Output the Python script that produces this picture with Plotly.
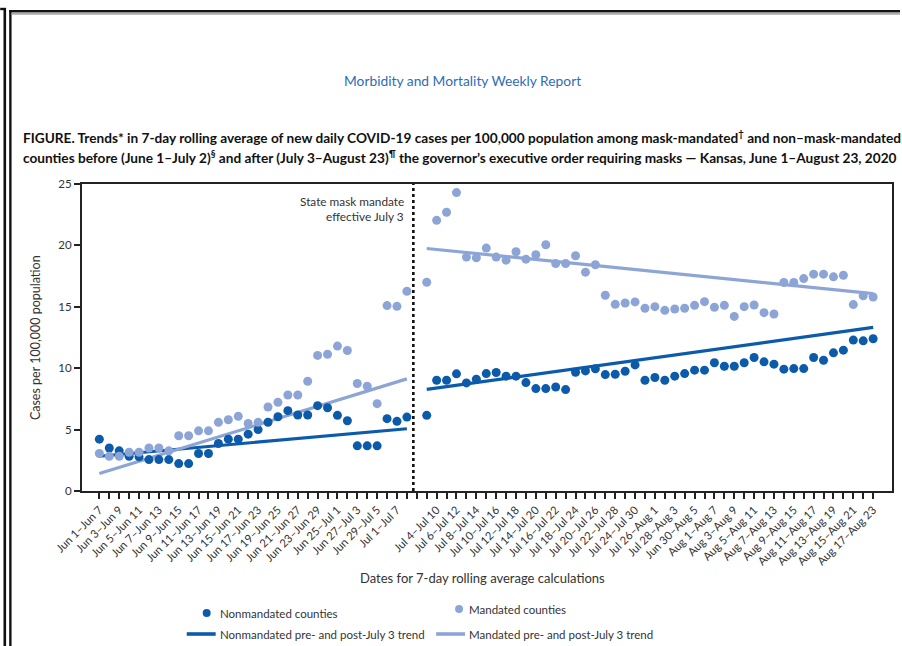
import plotly.graph_objects as go

# ---------------- data ----------------
pre_nonmandated = [4.22, 3.5, 3.27, 2.83, 2.78, 2.56, 2.56, 2.56, 2.23, 2.23, 3.05, 3.05, 3.87, 4.22, 4.22, 4.63,
                   5.0, 5.6, 6.05, 6.54, 6.19, 6.19, 6.95, 6.78, 6.16, 5.72, 3.68, 3.68, 3.68, 5.89, 5.67, 6.02]
pre_mandated = [3.05, 2.83, 2.83, 3.16, 3.16, 3.5, 3.5, 3.27, 4.5, 4.5, 4.9, 4.9, 5.59, 5.8, 6.08, 5.5,
                5.59, 6.84, 7.22, 7.82, 7.82, 8.94, 11.04, 11.14, 11.8, 11.44, 8.75, 8.53, 7.11, 15.1, 15.04, 16.27]
post_nonmandated = [6.16, 9.02, 9.02, 9.54, 8.8, 9.1, 9.56, 9.65, 9.35, 9.35, 8.83, 8.34, 8.34, 8.47, 8.26, 9.67,
                    9.78, 9.95, 9.48, 9.51, 9.75, 10.27, 9.02, 9.24, 9.02, 9.35, 9.56, 9.84, 9.84, 10.44, 10.16,
                    10.16, 10.44, 10.87, 10.52, 10.33, 9.92, 9.97, 9.97, 10.87, 10.65, 11.25, 11.47, 12.29, 12.23, 12.4]
post_mandated = [17.0, 22.04, 22.7, 24.3, 19.05, 18.99, 19.78, 19.05, 18.8, 19.48, 18.88, 19.24, 20.05, 18.53, 18.53,
                 19.16, 17.82, 18.42, 15.94, 15.2, 15.31, 15.4, 14.88, 15.01, 14.71, 14.82, 14.88, 15.12, 15.42,
                 14.96, 15.12, 14.22, 15.01, 15.15, 14.52, 14.41, 16.98, 16.98, 17.3, 17.66, 17.66, 17.44, 17.57,
                 15.18, 15.89, 15.8]

# trend line values at first and last date of each period
pre_trend_nonmandated = [2.83, 5.07]
pre_trend_mandated = [1.42, 9.13]
post_trend_nonmandated = [8.28, 13.32]
post_trend_mandated = [19.75, 16.08]

pre_labels = ["Jun 1–Jun 7", "Jun 3–Jun 9", "Jun 5–Jun 11", "Jun 7–Jun 13", "Jun 9–Jun 15", "Jun 11–Jun 17",
              "Jun 13–Jun 19", "Jun 15–Jun 21", "Jun 17–Jun 23", "Jun 19–Jun 25", "Jun 21–Jun 27",
              "Jun 23–Jun 29", "Jun 25–Jul 1", "Jun 27–Jul 3", "Jun 29–Jul 5", "Jul 1–Jul 7"]
post_labels = ["Jul 4–Jul 10", "Jul 6–Jul 12", "Jul 8–Jul 14", "Jul 10–Jul 16", "Jul 12–Jul 18", "Jul 14–Jul 20",
               "Jul 16–Jul 22", "Jul 18–Jul 24", "Jul 20–Jul 26", "Jul 22–Jul 28", "Jul 24–Jul 30",
               "Jul 26–Aug 1", "Jul 28–Aug 3", "Jun 30–Aug 5", "Aug 1–Aug 7", "Aug 3–Aug 9", "Aug 5–Aug 11",
               "Aug 7–Aug 13", "Aug 9–Aug 15", "Aug 11–Aug 17", "Aug 13–Aug 19", "Aug 15–Aug 21", "Aug 17–Aug 23"]

y_ticks = [0, 5, 10, 15, 20, 25]

# ---------------- positions ----------------
n_pre = len(pre_nonmandated)
n_post = len(post_nonmandated)
pre_x = list(range(n_pre))
post_x = list(range(n_pre + 1, n_pre + 1 + n_post))
n_slots = n_pre + 1 + n_post

tickvals = list(range(n_slots))
ticktext = [" "] * n_slots
for i, lab in enumerate(pre_labels):
    ticktext[2 * i] = lab
for i, lab in enumerate(post_labels):
    ticktext[post_x[1] + 2 * i] = lab

DARK = "#0C5BAA"
LIGHT = "#8DA5D6"
TXT = "#333333"
FONT = "Lato, Noto Sans, sans-serif"

W, H = 902, 646
ML, MR, MT, MB = 82, 8, 184, 155
PW, PH = W - ML - MR, H - MT - MB


def PX(x):
    return (x - ML) / PW


def PY(y):
    return (H - MB - y) / PH


fig = go.Figure()

# trend lines
for xs, ys, c in [([pre_x[0], pre_x[-1]], pre_trend_nonmandated, DARK),
                  ([pre_x[0], pre_x[-1]], pre_trend_mandated, LIGHT),
                  ([post_x[0], post_x[-1]], post_trend_nonmandated, DARK),
                  ([post_x[0], post_x[-1]], post_trend_mandated, LIGHT)]:
    fig.add_trace(go.Scatter(x=xs, y=ys, mode="lines", line=dict(color=c, width=3.2),
                             showlegend=False, hoverinfo="skip"))

# points
fig.add_trace(go.Scatter(x=pre_x + post_x, y=pre_nonmandated + post_nonmandated, mode="markers",
                         marker=dict(color=DARK, size=9), showlegend=False))
fig.add_trace(go.Scatter(x=pre_x + post_x, y=pre_mandated + post_mandated, mode="markers",
                         marker=dict(color=LIGHT, size=9), showlegend=False))

shapes = []
# mandate line (between last pre point and first post point)
shapes.append(dict(type="line", xref="x", yref="paper", x0=n_pre - 0.35, x1=n_pre - 0.35, y0=0, y1=1,
                   line=dict(color="#111111", width=2.6, dash="dot")))

# page frame
shapes += [
    dict(type="line", xref="paper", yref="paper", x0=PX(4.6), x1=PX(4.6), y0=PY(8), y1=PY(646),
         line=dict(color="#111111", width=2.6)),
    dict(type="line", xref="paper", yref="paper", x0=PX(0), x1=PX(5.8), y0=PY(9), y1=PY(9),
         line=dict(color="#111111", width=2.4)),
    dict(type="line", xref="paper", yref="paper", x0=PX(10.2), x1=PX(10.2), y0=PY(10), y1=PY(646),
         line=dict(color="#111111", width=2.4)),
    dict(type="line", xref="paper", yref="paper", x0=PX(9), x1=PX(902), y0=PY(11.2), y1=PY(11.2),
         line=dict(color="#111111", width=2.4)),
    dict(type="line", xref="paper", yref="paper", x0=PX(11.5), x1=PX(902), y0=PY(13.8), y1=PY(13.8),
         line=dict(color="#AAAAAA", width=2)),
]

# legend symbols
shapes += [
    dict(type="circle", xref="paper", yref="paper", x0=PX(203), x1=PX(211), y0=PY(609), y1=PY(617),
         fillcolor=DARK, line=dict(width=0)),
    dict(type="circle", xref="paper", yref="paper", x0=PX(456), x1=PX(464), y0=PY(605), y1=PY(613),
         fillcolor=LIGHT, line=dict(width=0)),
    dict(type="line", xref="paper", yref="paper", x0=PX(187), x1=PX(216), y0=PY(634), y1=PY(634),
         line=dict(color=DARK, width=3.6)),
    dict(type="line", xref="paper", yref="paper", x0=PX(437), x1=PX(466), y0=PY(634), y1=PY(634),
         line=dict(color=LIGHT, width=3.6)),
]

ann = []


def text(x, y, s, size=11.5, color=TXT, anchor="left", family=FONT, **kw):
    ann.append(dict(xref="paper", yref="paper", x=PX(x), y=PY(y), text=s, showarrow=False,
                    xanchor=anchor, yanchor="middle", font=dict(size=size, color=color, family=family), **kw))


text(463, 80, "Morbidity and Mortality Weekly Report", size=13.8, color="#2F6DB5", anchor="center")
text(21, 137, "<b>FIGURE. Trends* in 7-day rolling average of new daily COVID-19 cases per 100,000 population among "
              "mask-mandated<sup>†</sup> and non–mask-mandated</b>", size=13.65, color="#111111")
text(21, 157, "<b>counties before (June 1–July 2)<sup>§</sup> and after (July 3–August 23)<sup>¶</sup> the governor’s "
              "executive order requiring masks — Kansas, June 1–August 23, 2020</b>", size=13.65, color="#111111")
text(407, 201, "State mask mandate", size=11.8, anchor="right")
text(407, 216, "effective July 3", size=11.8, anchor="right")
text(483, 578, "Dates for 7-day rolling average calculations", size=13, anchor="center")
text(218, 613, "Nonmandated counties", size=11.5)
text(468, 609, "Mandated counties", size=11.5)
text(218, 634, "Nonmandated pre- and post-July 3 trend", size=11.5)
text(468, 634, "Mandated pre- and post-July 3 trend", size=11.5)
ann.append(dict(xref="paper", yref="paper", x=PX(35), y=PY(338), text="Cases per 100,000 population",
                showarrow=False, textangle=-90, xanchor="center", yanchor="middle",
                font=dict(size=12.5, color=TXT, family=FONT)))

fig.update_layout(
    width=W, height=H,
    margin=dict(l=ML, r=MR, t=MT, b=MB),
    paper_bgcolor="white", plot_bgcolor="white",
    font=dict(family=FONT, color=TXT),
    shapes=shapes, annotations=ann,
    showlegend=False,
)
fig.update_xaxes(range=[-1.75, 79.9], tickmode="array", tickvals=tickvals, ticktext=ticktext,
                 tickangle=-45, tickfont=dict(size=11.3, color=TXT), ticks="outside", ticklen=6,
                 tickwidth=1.5, tickcolor="#222222", showgrid=False, zeroline=False,
                 showline=True, linecolor="#222222", linewidth=2, mirror=True)
fig.update_yaxes(range=[0, 25], tickvals=y_ticks, ticks="outside", ticklen=6, tickwidth=1.5,
                 tickcolor="#222222", tickfont=dict(size=11.5, color=TXT), showgrid=False, zeroline=False,
                 showline=True, linecolor="#222222", linewidth=2, mirror=True)

fig.write_html("out.html", config={"displayModeBar": False},
               post_script="document.body.style.margin='0';document.body.style.overflow='hidden';")
